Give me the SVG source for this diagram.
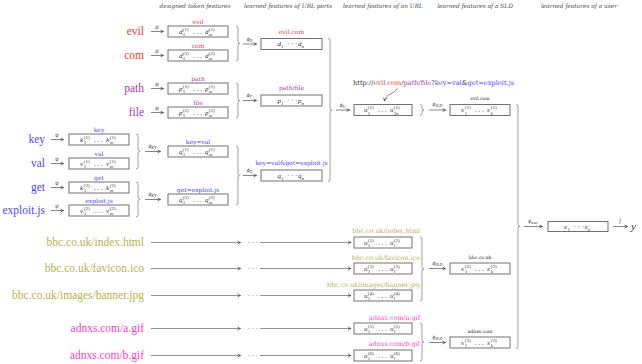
<svg xmlns="http://www.w3.org/2000/svg" width="642" height="364" viewBox="0 0 642 364">
<defs>
<style>
.hdr{font-family:"DejaVu Serif",serif;font-style:italic;font-size:5.8px;fill:#444;text-anchor:middle}
.big{font-family:"Liberation Serif",serif;font-size:11.5px;text-anchor:end}
.sm{font-family:"DejaVu Serif",serif;font-size:6px;text-anchor:middle}
.url{font-family:"DejaVu Serif",serif;font-size:6.6px;fill:#333}
.sld{font-family:"DejaVu Serif",serif;font-size:4.6px;fill:#222;text-anchor:middle}
.box{fill:#fff;stroke:#707070;stroke-width:1}
.m{font-family:"Liberation Serif","DejaVu Serif",serif;font-size:7px;fill:#333;font-style:italic}
.sc{font-size:5px;font-style:normal}
.si{font-size:5px;font-style:italic}
.up{font-style:normal}
.arr{stroke:#333;stroke-width:0.6;fill:none;marker-end:url(#ah)}
.garr{stroke:#777;stroke-width:0.8;fill:none;marker-end:url(#ah)}
.brace{stroke:#888;stroke-width:0.8;fill:none}
.al{font-family:"Liberation Serif","DejaVu Serif",serif;font-size:5.5px;font-style:italic;fill:#333;text-anchor:middle}
.as{font-size:4px}
.red{fill:#ff3535}.pur{fill:#a23ea2}.blu{fill:#4747ff}.oli{fill:#b3b34b}.mag{fill:#ff3dbf}.blk{fill:#333}
</style>
<marker id="ah" viewBox="0 0 6 6" refX="5" refY="3" markerWidth="4.5" markerHeight="4.5" markerUnits="userSpaceOnUse" orient="auto">
<path d="M1,0.8 Q3,2.4 5,3 Q3,3.6 1,5.2" fill="none" stroke="#333" stroke-width="0.9"/>
</marker>
</defs>
<rect width="642" height="364" fill="#fff"/>

<g id="headers" class="hdr">
<text x="195" y="8">designed token features</text>
<text x="288" y="8">learned features of URL parts</text>
<text x="383" y="8">learned features of an URL</text>
<text x="475" y="8">learned features of a SLD</text>
<text x="579" y="8">learned features of a user</text>
</g>

<!-- input tokens -->
<g id="tok-evil"><text class="big red" x="144" y="35">evil</text></g>
<g id="tok-com"><text class="big red" x="144" y="59">com</text></g>
<g id="tok-path"><text class="big pur" x="144" y="92">path</text></g>
<g id="tok-file"><text class="big pur" x="144" y="116">file</text></g>
<g id="tok-key"><text class="big blu" x="45" y="143">key</text></g>
<g id="tok-val"><text class="big blu" x="45" y="167">val</text></g>
<g id="tok-get"><text class="big blu" x="45" y="191">get</text></g>
<g id="tok-exploit"><text class="big blu" x="45" y="214">exploit.js</text></g>
<g id="url-bbc-index"><text class="big oli" x="144" y="246">bbc.co.uk/index.html</text></g>
<g id="url-bbc-favicon"><text class="big oli" x="144" y="272">bbc.co.uk/favicon.ico</text></g>
<g id="url-bbc-banner"><text class="big oli" x="144" y="299">bbc.co.uk/images/banner.jpg</text></g>
<g id="url-adnxs-a"><text class="big mag" x="144" y="332">adnxs.com/a.gif</text></g>
<g id="url-adnxs-b"><text class="big mag" x="144" y="359">adnxs.com/b.gif</text></g>

<!-- token feature boxes -->
<g id="d1"><text class="sm red" x="198" y="23.5">evil</text><rect class="box" x="168" y="26" width="60" height="11"/>
<text class="m"><tspan x="179" y="33.8">d</tspan><tspan class="sc" x="182.8" y="30.5">(1)</tspan><tspan class="sc" x="182.8" y="36.3">1</tspan><tspan class="up" x="193" y="33.8">. . .</tspan><tspan x="205" y="33.8">d</tspan><tspan class="sc" x="208.8" y="30.5">(1)</tspan><tspan class="si" x="208.8" y="36.3">m</tspan></text></g>
<g id="d2"><text class="sm red" x="198" y="47.5">com</text><rect class="box" x="168" y="50" width="60" height="11"/>
<text class="m"><tspan x="179" y="57.8">d</tspan><tspan class="sc" x="182.8" y="54.5">(2)</tspan><tspan class="sc" x="182.8" y="60.3">1</tspan><tspan class="up" x="193" y="57.8">. . .</tspan><tspan x="205" y="57.8">d</tspan><tspan class="sc" x="208.8" y="54.5">(2)</tspan><tspan class="si" x="208.8" y="60.3">m</tspan></text></g>
<g id="p1"><text class="sm pur" x="198" y="80.5">path</text><rect class="box" x="168" y="83" width="60" height="11"/>
<text class="m"><tspan x="179" y="90.8">p</tspan><tspan class="sc" x="182.8" y="87.5">(1)</tspan><tspan class="sc" x="182.8" y="93.3">1</tspan><tspan class="up" x="193" y="90.8">. . .</tspan><tspan x="205" y="90.8">p</tspan><tspan class="sc" x="208.8" y="87.5">(1)</tspan><tspan class="si" x="208.8" y="93.3">m</tspan></text></g>
<g id="p2"><text class="sm pur" x="198" y="104.5">file</text><rect class="box" x="168" y="107" width="60" height="11"/>
<text class="m"><tspan x="179" y="114.8">p</tspan><tspan class="sc" x="182.8" y="111.5">(2)</tspan><tspan class="sc" x="182.8" y="117.3">1</tspan><tspan class="up" x="193" y="114.8">. . .</tspan><tspan x="205" y="114.8">p</tspan><tspan class="sc" x="208.8" y="111.5">(2)</tspan><tspan class="si" x="208.8" y="117.3">m</tspan></text></g>
<g id="k1"><text class="sm blu" x="99" y="131.5">key</text><rect class="box" x="69" y="134" width="60" height="11"/>
<text class="m"><tspan x="80" y="141.8">k</tspan><tspan class="sc" x="83.8" y="138.5">(1)</tspan><tspan class="sc" x="83.8" y="144.3">1</tspan><tspan class="up" x="94" y="141.8">. . .</tspan><tspan x="106" y="141.8">k</tspan><tspan class="sc" x="109.8" y="138.5">(1)</tspan><tspan class="si" x="109.8" y="144.3">m</tspan></text></g>
<g id="v1"><text class="sm blu" x="99" y="155.5">val</text><rect class="box" x="69" y="158" width="60" height="11"/>
<text class="m"><tspan x="80" y="165.8">v</tspan><tspan class="sc" x="83.8" y="162.5">(1)</tspan><tspan class="sc" x="83.8" y="168.3">1</tspan><tspan class="up" x="94" y="165.8">. . .</tspan><tspan x="106" y="165.8">v</tspan><tspan class="sc" x="109.8" y="162.5">(1)</tspan><tspan class="si" x="109.8" y="168.3">m</tspan></text></g>
<g id="k2"><text class="sm blu" x="99" y="179.5">get</text><rect class="box" x="69" y="182" width="60" height="11"/>
<text class="m"><tspan x="80" y="189.8">k</tspan><tspan class="sc" x="83.8" y="186.5">(2)</tspan><tspan class="sc" x="83.8" y="192.3">1</tspan><tspan class="up" x="94" y="189.8">. . .</tspan><tspan x="106" y="189.8">k</tspan><tspan class="sc" x="109.8" y="186.5">(2)</tspan><tspan class="si" x="109.8" y="192.3">m</tspan></text></g>
<g id="v2"><text class="sm blu" x="99" y="202.5">exploit.js</text><rect class="box" x="69" y="205" width="60" height="11"/>
<text class="m"><tspan x="80" y="212.8">v</tspan><tspan class="sc" x="83.8" y="209.5">(2)</tspan><tspan class="sc" x="83.8" y="215.3">1</tspan><tspan class="up" x="94" y="212.8">. . .</tspan><tspan x="106" y="212.8">v</tspan><tspan class="sc" x="109.8" y="209.5">(2)</tspan><tspan class="si" x="109.8" y="215.3">m</tspan></text></g>
<g id="q1"><text class="sm blu" x="198" y="143.5">key=val</text><rect class="box" x="168" y="146" width="60" height="11"/>
<text class="m"><tspan x="179" y="153.8">q</tspan><tspan class="sc" x="182.8" y="150.5">(1)</tspan><tspan class="sc" x="182.8" y="156.3">1</tspan><tspan class="up" x="193" y="153.8">. . .</tspan><tspan x="205" y="153.8">q</tspan><tspan class="sc" x="208.8" y="150.5">(1)</tspan><tspan class="si" x="208.8" y="156.3">m</tspan></text></g>
<g id="q2"><text class="sm blu" x="198" y="191.5">get=exploit.js</text><rect class="box" x="168" y="194" width="60" height="11"/>
<text class="m"><tspan x="179" y="201.8">q</tspan><tspan class="sc" x="182.8" y="198.5">(2)</tspan><tspan class="sc" x="182.8" y="204.3">1</tspan><tspan class="up" x="193" y="201.8">. . .</tspan><tspan x="205" y="201.8">q</tspan><tspan class="sc" x="208.8" y="198.5">(2)</tspan><tspan class="si" x="208.8" y="204.3">m</tspan></text></g>

<!-- URL part boxes -->
<g id="dpart"><text class="sm red" x="291.5" y="34">evil.com</text><rect class="box" x="261" y="38.5" width="61" height="11"/>
<text class="m"><tspan x="277.5" y="46.3">d</tspan><tspan class="sc" x="281" y="48.3">1</tspan><tspan class="up" x="287.1" y="46.3">· · ·</tspan><tspan x="298" y="46.3">d</tspan><tspan class="si" x="301.6" y="48.3">n</tspan></text></g>
<g id="ppart"><text class="sm pur" x="291.5" y="90">path/file</text><rect class="box" x="261" y="95" width="61" height="11"/>
<text class="m"><tspan x="277.5" y="102.8">p</tspan><tspan class="sc" x="281" y="104.8">1</tspan><tspan class="up" x="287.1" y="102.8">· · ·</tspan><tspan x="298" y="102.8">p</tspan><tspan class="si" x="301.6" y="104.8">n</tspan></text></g>
<g id="qpart"><text class="sm blu" x="291.5" y="165">key=val&amp;get=exploit.js</text><rect class="box" x="261" y="170" width="61" height="11"/>
<text class="m"><tspan x="277.5" y="177.8">q</tspan><tspan class="sc" x="281" y="179.8">1</tspan><tspan class="up" x="287.1" y="177.8">· · ·</tspan><tspan x="298" y="177.8">q</tspan><tspan class="si" x="301.6" y="179.8">n</tspan></text></g>

<!-- URL boxes -->
<g id="u1"><text class="url" x="353" y="85">http://<tspan class="red">evil.com</tspan>/<tspan class="pur">path/file</tspan>?<tspan class="blu">key=val</tspan>&amp;<tspan class="blu">get=exploit.js</tspan></text>
<rect class="box" x="354" y="104.5" width="58" height="11"/>
<text class="m"><tspan x="364" y="112.3">u</tspan><tspan class="sc" x="367.8" y="109">(1)</tspan><tspan class="sc" x="367.8" y="114.8">1</tspan><tspan class="up" x="378" y="112.3">. . .</tspan><tspan x="390" y="112.3">u</tspan><tspan class="sc" x="393.8" y="109">(1)</tspan><tspan class="sc" x="393.8" y="114.8">3<tspan class="si">n</tspan></tspan></text></g>
<g id="u2"><text class="sm oli" x="420" y="233" style="text-anchor:end;font-size:6.4px">bbc.co.uk/index.html</text><rect class="box" x="354" y="237" width="58" height="11"/>
<text class="m"><tspan x="364" y="244.8">u</tspan><tspan class="sc" x="367.8" y="241.5">(2)</tspan><tspan class="sc" x="367.8" y="247.3">1</tspan><tspan class="up" x="378" y="244.8">. . .</tspan><tspan x="390" y="244.8">u</tspan><tspan class="sc" x="393.8" y="241.5">(2)</tspan><tspan class="si" x="393.8" y="247.3">l</tspan></text></g>
<g id="u3"><text class="sm oli" x="420" y="259.5" style="text-anchor:end;font-size:6.4px">bbc.co.uk/favicon.ico</text><rect class="box" x="354" y="263" width="58" height="11"/>
<text class="m"><tspan x="364" y="270.8">u</tspan><tspan class="sc" x="367.8" y="267.5">(3)</tspan><tspan class="sc" x="367.8" y="273.3">1</tspan><tspan class="up" x="378" y="270.8">. . .</tspan><tspan x="390" y="270.8">u</tspan><tspan class="sc" x="393.8" y="267.5">(3)</tspan><tspan class="si" x="393.8" y="273.3">l</tspan></text></g>
<g id="u4"><text class="sm oli" x="420" y="286.5" style="text-anchor:end;font-size:6.4px">bbc.co.uk/images/banner.jpg</text><rect class="box" x="354" y="290" width="58" height="11"/>
<text class="m"><tspan x="364" y="297.8">u</tspan><tspan class="sc" x="367.8" y="294.5">(4)</tspan><tspan class="sc" x="367.8" y="300.3">1</tspan><tspan class="up" x="378" y="297.8">. . .</tspan><tspan x="390" y="297.8">u</tspan><tspan class="sc" x="393.8" y="294.5">(4)</tspan><tspan class="si" x="393.8" y="300.3">l</tspan></text></g>
<g id="u5"><text class="sm mag" x="420" y="320" style="text-anchor:end;font-size:6.4px">adnxs.com/a.gif</text><rect class="box" x="354" y="323" width="58" height="11"/>
<text class="m"><tspan x="364" y="330.8">u</tspan><tspan class="sc" x="367.8" y="327.5">(5)</tspan><tspan class="sc" x="367.8" y="333.3">1</tspan><tspan class="up" x="378" y="330.8">. . .</tspan><tspan x="390" y="330.8">u</tspan><tspan class="sc" x="393.8" y="327.5">(5)</tspan><tspan class="si" x="393.8" y="333.3">l</tspan></text></g>
<g id="u6"><text class="sm mag" x="420" y="345.5" style="text-anchor:end;font-size:6.4px">adnxs.com/b.gif</text><rect class="box" x="354" y="350" width="58" height="11"/>
<text class="m"><tspan x="364" y="357.8">u</tspan><tspan class="sc" x="367.8" y="354.5">(6)</tspan><tspan class="sc" x="367.8" y="360.3">1</tspan><tspan class="up" x="378" y="357.8">. . .</tspan><tspan x="390" y="357.8">u</tspan><tspan class="sc" x="393.8" y="354.5">(6)</tspan><tspan class="si" x="393.8" y="360.3">l</tspan></text></g>

<!-- SLD boxes -->
<g id="s1"><text class="sld" x="480" y="100">evil.com</text><rect class="box" x="450" y="104.5" width="60" height="11"/>
<text class="m"><tspan x="461" y="112.3">s</tspan><tspan class="sc" x="464.8" y="109">(1)</tspan><tspan class="sc" x="464.8" y="114.8">1</tspan><tspan class="up" x="475" y="112.3">. . .</tspan><tspan x="487" y="112.3">s</tspan><tspan class="sc" x="490.8" y="109">(1)</tspan><tspan class="si" x="490.8" y="114.8">k</tspan></text></g>
<g id="s2"><text class="sld" x="480" y="259">bbc.co.uk</text><rect class="box" x="450" y="263" width="60" height="11"/>
<text class="m"><tspan x="461" y="270.8">s</tspan><tspan class="sc" x="464.8" y="267.5">(2)</tspan><tspan class="sc" x="464.8" y="273.3">1</tspan><tspan class="up" x="475" y="270.8">. . .</tspan><tspan x="487" y="270.8">s</tspan><tspan class="sc" x="490.8" y="267.5">(2)</tspan><tspan class="si" x="490.8" y="273.3">k</tspan></text></g>
<g id="s3"><text class="sld" x="480" y="333">adnxs.com</text><rect class="box" x="450" y="337" width="60" height="11"/>
<text class="m"><tspan x="461" y="344.8">s</tspan><tspan class="sc" x="464.8" y="341.5">(3)</tspan><tspan class="sc" x="464.8" y="347.3">1</tspan><tspan class="up" x="475" y="344.8">. . .</tspan><tspan x="487" y="344.8">s</tspan><tspan class="sc" x="490.8" y="341.5">(3)</tspan><tspan class="si" x="490.8" y="347.3">k</tspan></text></g>

<!-- user box and output -->
<g id="user"><rect class="box" x="548" y="221.5" width="60" height="10"/>
<text class="m"><tspan x="564" y="228.8">x</tspan><tspan class="sc" x="567.5" y="230.8">1</tspan><tspan class="up" x="573.6" y="228.8">· · ·</tspan><tspan x="584.5" y="228.8">x</tspan><tspan class="si" x="588.1" y="230.8">p</tspan></text></g>
<g id="output"><text x="631" y="229.8" style="font-family:'Liberation Serif',serif;font-style:italic;font-size:11px;fill:#333">y</text></g>

<g id="connectors">
<!-- psi arrows -->
<path class="arr" d="M151,31.5H163.5"/><path class="arr" d="M151,55.5H163.5"/><path class="arr" d="M151,88.5H163.5"/><path class="arr" d="M151,112.5H163.5"/>
<path class="arr" d="M51,139.5H63.5"/><path class="arr" d="M51,163.5H63.5"/><path class="arr" d="M51,187.5H63.5"/><path class="arr" d="M51,210.5H63.5"/>
<g class="al">
<text x="157" y="28.5">ψ</text><text x="157" y="52.5">ψ</text><text x="157" y="85.5">ψ</text><text x="157" y="109.5">ψ</text>
<text x="57" y="136.5">ψ</text><text x="57" y="160.5">ψ</text><text x="57" y="184.5">ψ</text><text x="57" y="207.5">ψ</text>
</g>
<!-- braces -->
<path class="brace" d="M236,26 Q238,26 238,28 L238,41.5 Q238,43.5 240,43.5 Q238,43.5 238,45.5 L238,59 Q238,61 236,61"/>
<path class="brace" d="M236,83 Q238,83 238,85 L238,98.5 Q238,100.5 240,100.5 Q238,100.5 238,102.5 L238,116 Q238,118 236,118"/>
<path class="brace" d="M136,134 Q138,134 138,136 L138,149.5 Q138,151.5 140,151.5 Q138,151.5 138,153.5 L138,167 Q138,169 136,169"/>
<path class="brace" d="M136,182 Q138,182 138,184 L138,197.5 Q138,199.5 140,199.5 Q138,199.5 138,201.5 L138,215 Q138,217 136,217"/>
<path class="brace" d="M236,146 Q238,146 238,148 L238,173.5 Q238,175.5 240,175.5 Q238,175.5 238,177.5 L238,203 Q238,205 236,205"/>
<path class="brace" d="M328,38.5 Q330,38.5 330,40.5 L330,108 Q330,110 332,110 Q330,110 330,112 L330,179.5 Q330,181.5 328,181.5"/>
<path class="brace" d="M420,104.5 Q422,104.5 422,106.5 L422,108 Q422,110 424,110 Q422,110 422,112 L422,113.5 Q422,115.5 420,115.5"/>
<path class="brace" d="M420,237 Q422,237 422,239 L422,267 Q422,269 424,269 Q422,269 422,271 L422,299 Q422,301 420,301"/>
<path class="brace" d="M420,323 Q422,323 422,325 L422,340 Q422,342 424,342 Q422,342 422,344 L422,359 Q422,361 420,361"/>
<path class="brace" d="M516,104.5 Q518,104.5 518,106.5 L518,224.5 Q518,226.5 520,226.5 Q518,226.5 518,228.5 L518,346.5 Q518,348.5 516,348.5"/>
<!-- phi arrows -->
<path class="arr" d="M243,44H256.5"/><path class="arr" d="M243,100.5H256.5"/>
<path class="arr" d="M145,151.5H160.5"/><path class="arr" d="M145,199.5H160.5"/>
<path class="arr" d="M243,175.5H256.5"/><path class="arr" d="M336,110H349.5"/>
<path class="arr" d="M429,110H445.5"/><path class="arr" d="M429,268.5H445.5"/><path class="arr" d="M429,342.5H445.5"/>
<path class="arr" d="M524,226.5H542.5"/><path class="arr" d="M613,226.5H627.5"/>
<g class="al">
<text x="249.5" y="40.5">ϕ<tspan class="as" dy="1">D</tspan></text>
<text x="249.5" y="97">ϕ<tspan class="as" dy="1">P</tspan></text>
<text x="152.5" y="148">ϕ<tspan class="as" dy="1">KV</tspan></text>
<text x="152.5" y="196">ϕ<tspan class="as" dy="1">KV</tspan></text>
<text x="249.5" y="172">ϕ<tspan class="as" dy="1">Q</tspan></text>
<text x="342.5" y="106.5">ϕ<tspan class="as" dy="1">U</tspan></text>
<text x="437.5" y="106">ϕ<tspan class="as" dy="1">SLD</tspan></text>
<text x="437.5" y="264.5">ϕ<tspan class="as" dy="1">SLD</tspan></text>
<text x="437.5" y="338.5">ϕ<tspan class="as" dy="1">SLD</tspan></text>
<text x="533" y="222.5">ϕ<tspan class="as" dy="1">user</tspan></text>
<text x="620" y="222.5">f</text>
</g>
<!-- curved arrow from URL -->
<path class="arr" d="M397,88.5 C395,94 386,93 384.5,101"/>
<!-- long arrows from URLs -->
<path class="garr" d="M151,242.5H240.5"/><path class="garr" d="M260,242.5H351"/>
<path class="garr" d="M151,268.5H240.5"/><path class="garr" d="M260,268.5H351"/>
<path class="garr" d="M151,295.5H240.5"/><path class="garr" d="M260,295.5H351"/>
<path class="garr" d="M151,328.5H240.5"/><path class="garr" d="M260,328.5H351"/>
<path class="garr" d="M151,355.5H240.5"/><path class="garr" d="M260,355.5H351"/>
<g class="m up" style="font-style:normal">
<text x="247.5" y="244.8">· · ·</text><text x="247.5" y="270.8">· · ·</text><text x="247.5" y="297.8">· · ·</text><text x="247.5" y="330.8">· · ·</text><text x="247.5" y="357.8">· · ·</text>
</g>
</g>
</svg>
